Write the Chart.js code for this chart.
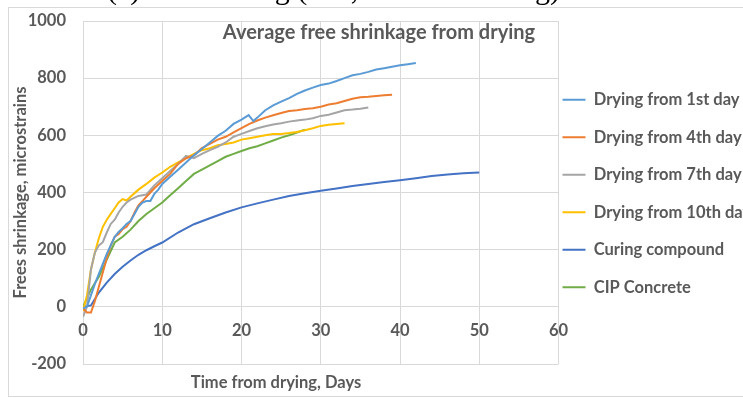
<!DOCTYPE html>
<html>
<head>
<meta charset="utf-8">
<script src="https://cdn.jsdelivr.net/npm/chart.js@4"></script>
<style>
  html, body { margin: 0; padding: 0; background: #fff; overflow: hidden; }
  #wrap { position: relative; width: 800px; height: 398px; }
</style>
</head>
<body>
<div id="wrap"><canvas id="shrinkage"></canvas></div>
<script>
// days since start of drying, and free shrinkage (microstrain) for each mix
const days1 = [0, 0.5, 1, 1.5, 2, 2.5, 3, 3.5, 4, 4.5, 5, 5.5, 6, 6.5, 7, 7.5, 8, 8.5, 9, 9.5, 10, 11, 12, 13, 14, 15, 16, 17, 18, 19, 20, 20.9, 21.5, 22, 23, 24, 25, 26, 27, 28, 29, 30, 31, 32, 33, 34, 35, 36, 37, 38, 39, 40, 41, 42];
const dry1st = [-5, 0, 40, 80, 115, 150, 185, 215, 245, 262, 275, 290, 300, 325, 350, 365, 370, 370, 395, 410, 430, 455, 480, 505, 530, 552, 575, 598, 616, 640, 655, 671, 650, 662, 688, 705, 718, 730, 745, 757, 767, 776, 781, 790, 800, 810, 815, 822, 830, 835, 840, 845, 849, 853];

const days4 = [0, 0.5, 1, 1.5, 2, 2.5, 3, 3.5, 4, 4.5, 5, 5.5, 6, 6.5, 7, 7.5, 8, 9, 10, 11, 12, 13, 14, 15, 16, 17, 18, 19, 20, 21, 22, 23, 24, 25, 26, 27, 28, 29, 30, 31, 32, 33, 34, 35, 36, 37, 38, 39];
const dry4th = [-5, -20, -20, 20, 70, 120, 170, 215, 245, 255, 272, 280, 300, 330, 355, 370, 385, 415, 440, 465, 500, 520, 530, 555, 570, 585, 595, 610, 625, 640, 652, 662, 670, 678, 685, 688, 692, 695, 700, 708, 712, 720, 728, 733, 735, 738, 740, 742];

const days7 = [0, 0.5, 1, 1.5, 2, 2.5, 3, 3.5, 4, 4.5, 5, 5.5, 6, 7, 8, 9, 10, 11, 12, 13, 14, 15, 16, 17, 18, 19, 20, 21, 22, 23, 24, 25, 26, 27, 28, 29, 30, 31, 32, 33, 34, 35, 36];
const dry7th = [-35, 0, 130, 190, 215, 226, 260, 290, 305, 330, 350, 365, 375, 388, 393, 425, 450, 475, 500, 528, 520, 535, 548, 560, 575, 595, 605, 615, 625, 632, 638, 642, 648, 652, 655, 660, 668, 672, 680, 688, 690, 693, 697];

const days10 = [0, 0.5, 1, 1.5, 2, 2.5, 3, 3.5, 4, 4.5, 5, 5.5, 6, 7, 8, 9, 10, 11, 12, 13, 14, 15, 16, 17, 18, 19, 20, 21, 22, 23, 24, 25, 26, 27, 28, 29, 30, 31, 32, 33];
const dry10th = [-15, 40, 130, 190, 240, 280, 305, 325, 345, 365, 377, 372, 385, 410, 430, 452, 470, 490, 505, 520, 535, 548, 555, 565, 570, 575, 585, 590, 595, 600, 605, 605, 608, 612, 618, 625, 633, 637, 640, 642];

const daysCure = [0, 1, 2, 3, 4, 5, 6, 7, 8, 9, 10, 12, 14, 16, 18, 20, 22, 24, 26, 28, 30, 32, 34, 36, 38, 40, 42, 44, 46, 48, 50];
const curing = [0, 5, 50, 85, 115, 140, 162, 182, 198, 212, 225, 260, 289, 310, 330, 348, 362, 375, 388, 397, 406, 414, 423, 430, 437, 443, 450, 458, 463, 467, 470];

const daysCip = [0, 1, 2, 3, 4, 5, 6, 7, 8, 9, 10, 11, 12, 13, 14, 15, 16, 17, 18, 19, 20, 21, 22, 23, 24, 25, 26, 27, 28];
const cip = [0, 60, 105, 165, 225, 245, 270, 300, 325, 345, 365, 390, 415, 440, 465, 480, 495, 510, 525, 535, 545, 555, 562, 572, 582, 592, 600, 610, 620];

const seriesNames = ['Drying from 1st day', 'Drying from 4th day', 'Drying from 7th day', 'Drying from 10th day', 'Curing compound', 'CIP Concrete'];
const seriesColors = ['#5B9BD5', '#ED7D31', '#A5A5A5', '#FFC000', '#4472C4', '#70AD47'];
const seriesDays = [days1, days4, days7, days10, daysCure, daysCip];
const seriesValues = [dry1st, dry4th, dry7th, dry10th, curing, cip];

const xTicks = [0, 10, 20, 30, 40, 50, 60];
const yTicks = [-200, 0, 200, 400, 600, 800, 1000];

const textGrey = '#595959';
const gridGrey = '#D9D9D9';
const labelFont = { family: 'Lato', size: 16.5, weight: 'bold' };

const datasets = seriesNames.map((name, i) => ({
    label: name,
    data: seriesDays[i].map((d, j) => ({ x: d, y: seriesValues[i][j] })),
    borderColor: seriesColors[i],
    backgroundColor: seriesColors[i],
    borderWidth: 2,
    pointRadius: 0,
    tension: 0,
    fill: false
}));

// frame, clipped caption above it, and the in-plot / x-axis titles
const decorations = {
    id: 'decorations',
    afterLayout(chart) {
        // pull the legend in next to the plot, let long labels run to the edge
        chart.legend.left -= 17;
        chart.legend.top += 2;
        chart.legend.right = chart.width;
    },
    beforeDraw(chart) {
        const ctx = chart.ctx;
        ctx.save();
        ctx.fillStyle = '#fff';
        ctx.fillRect(0, 0, chart.width, chart.height);
        ctx.strokeStyle = gridGrey;
        ctx.lineWidth = 1;
        ctx.strokeRect(8.5, 7.5, chart.width, 389);
        ctx.fillStyle = '#000';
        ctx.font = '30px "Liberation Serif"';
        ctx.textBaseline = 'alphabetic';
        ctx.fillText('(a) Lab Testing (w/c, effect of curing)', 107, -1);
        ctx.restore();
    },
    afterDraw(chart) {
        const ctx = chart.ctx;
        const area = chart.chartArea;
        ctx.save();
        ctx.fillStyle = textGrey;
        ctx.textAlign = 'center';
        ctx.textBaseline = 'middle';
        ctx.font = 'bold 20px Lato';
        ctx.fillText('Average free shrinkage from drying', area.left + 296, area.top + 12);
        ctx.font = 'bold 16.5px Lato';
        ctx.fillText('Time from drying, Days', area.left + 193, area.bottom + 19);
        ctx.restore();
    }
};

new Chart(
    document.getElementById('shrinkage'),
    {
        type: 'line',
        data: { datasets: datasets },
        plugins: [decorations],
        options: {
            responsive: true,
            maintainAspectRatio: false,
            animation: false,
            layout: {
                padding: { top: 21, bottom: 34, left: 11, right: 59 }
            },
            scales: {
                x: {
                    type: 'linear',
                    min: 0,
                    max: 60,
                    position: { y: 0 },
                    afterBuildTicks: axis => { axis.ticks = xTicks.map(v => ({ value: v })); },
                    grid: { color: gridGrey, drawTicks: false },
                    border: { color: gridGrey },
                    ticks: {
                        color: textGrey,
                        font: labelFont,
                        padding: 14,
                        maxRotation: 0,
                        callback: v => String(v)
                    }
                },
                y: {
                    min: -200,
                    max: 1000,
                    afterBuildTicks: axis => { axis.ticks = yTicks.map(v => ({ value: v })); },
                    afterFit: axis => {
                        axis.width = 72;
                        axis.paddingTop = 0;
                        axis.paddingBottom = 0;
                    },
                    grid: { color: gridGrey, drawTicks: false },
                    border: { display: false },
                    ticks: {
                        color: textGrey,
                        font: labelFont,
                        padding: 17,
                        callback: v => String(v)
                    },
                    title: {
                        display: true,
                        text: 'Frees shrinkage, microstrains',
                        color: textGrey,
                        font: labelFont,
                        padding: { top: 0, bottom: 1 }
                    }
                }
            },
            plugins: {
                legend: {
                    position: 'right',
                    labels: {
                        usePointStyle: true,
                        pointStyle: 'line',
                        pointStyleWidth: 23,
                        padding: 21,
                        color: textGrey,
                        font: labelFont
                    }
                },
                tooltip: { enabled: false }
            }
        }
    }
)
</script>
</body>
</html>
